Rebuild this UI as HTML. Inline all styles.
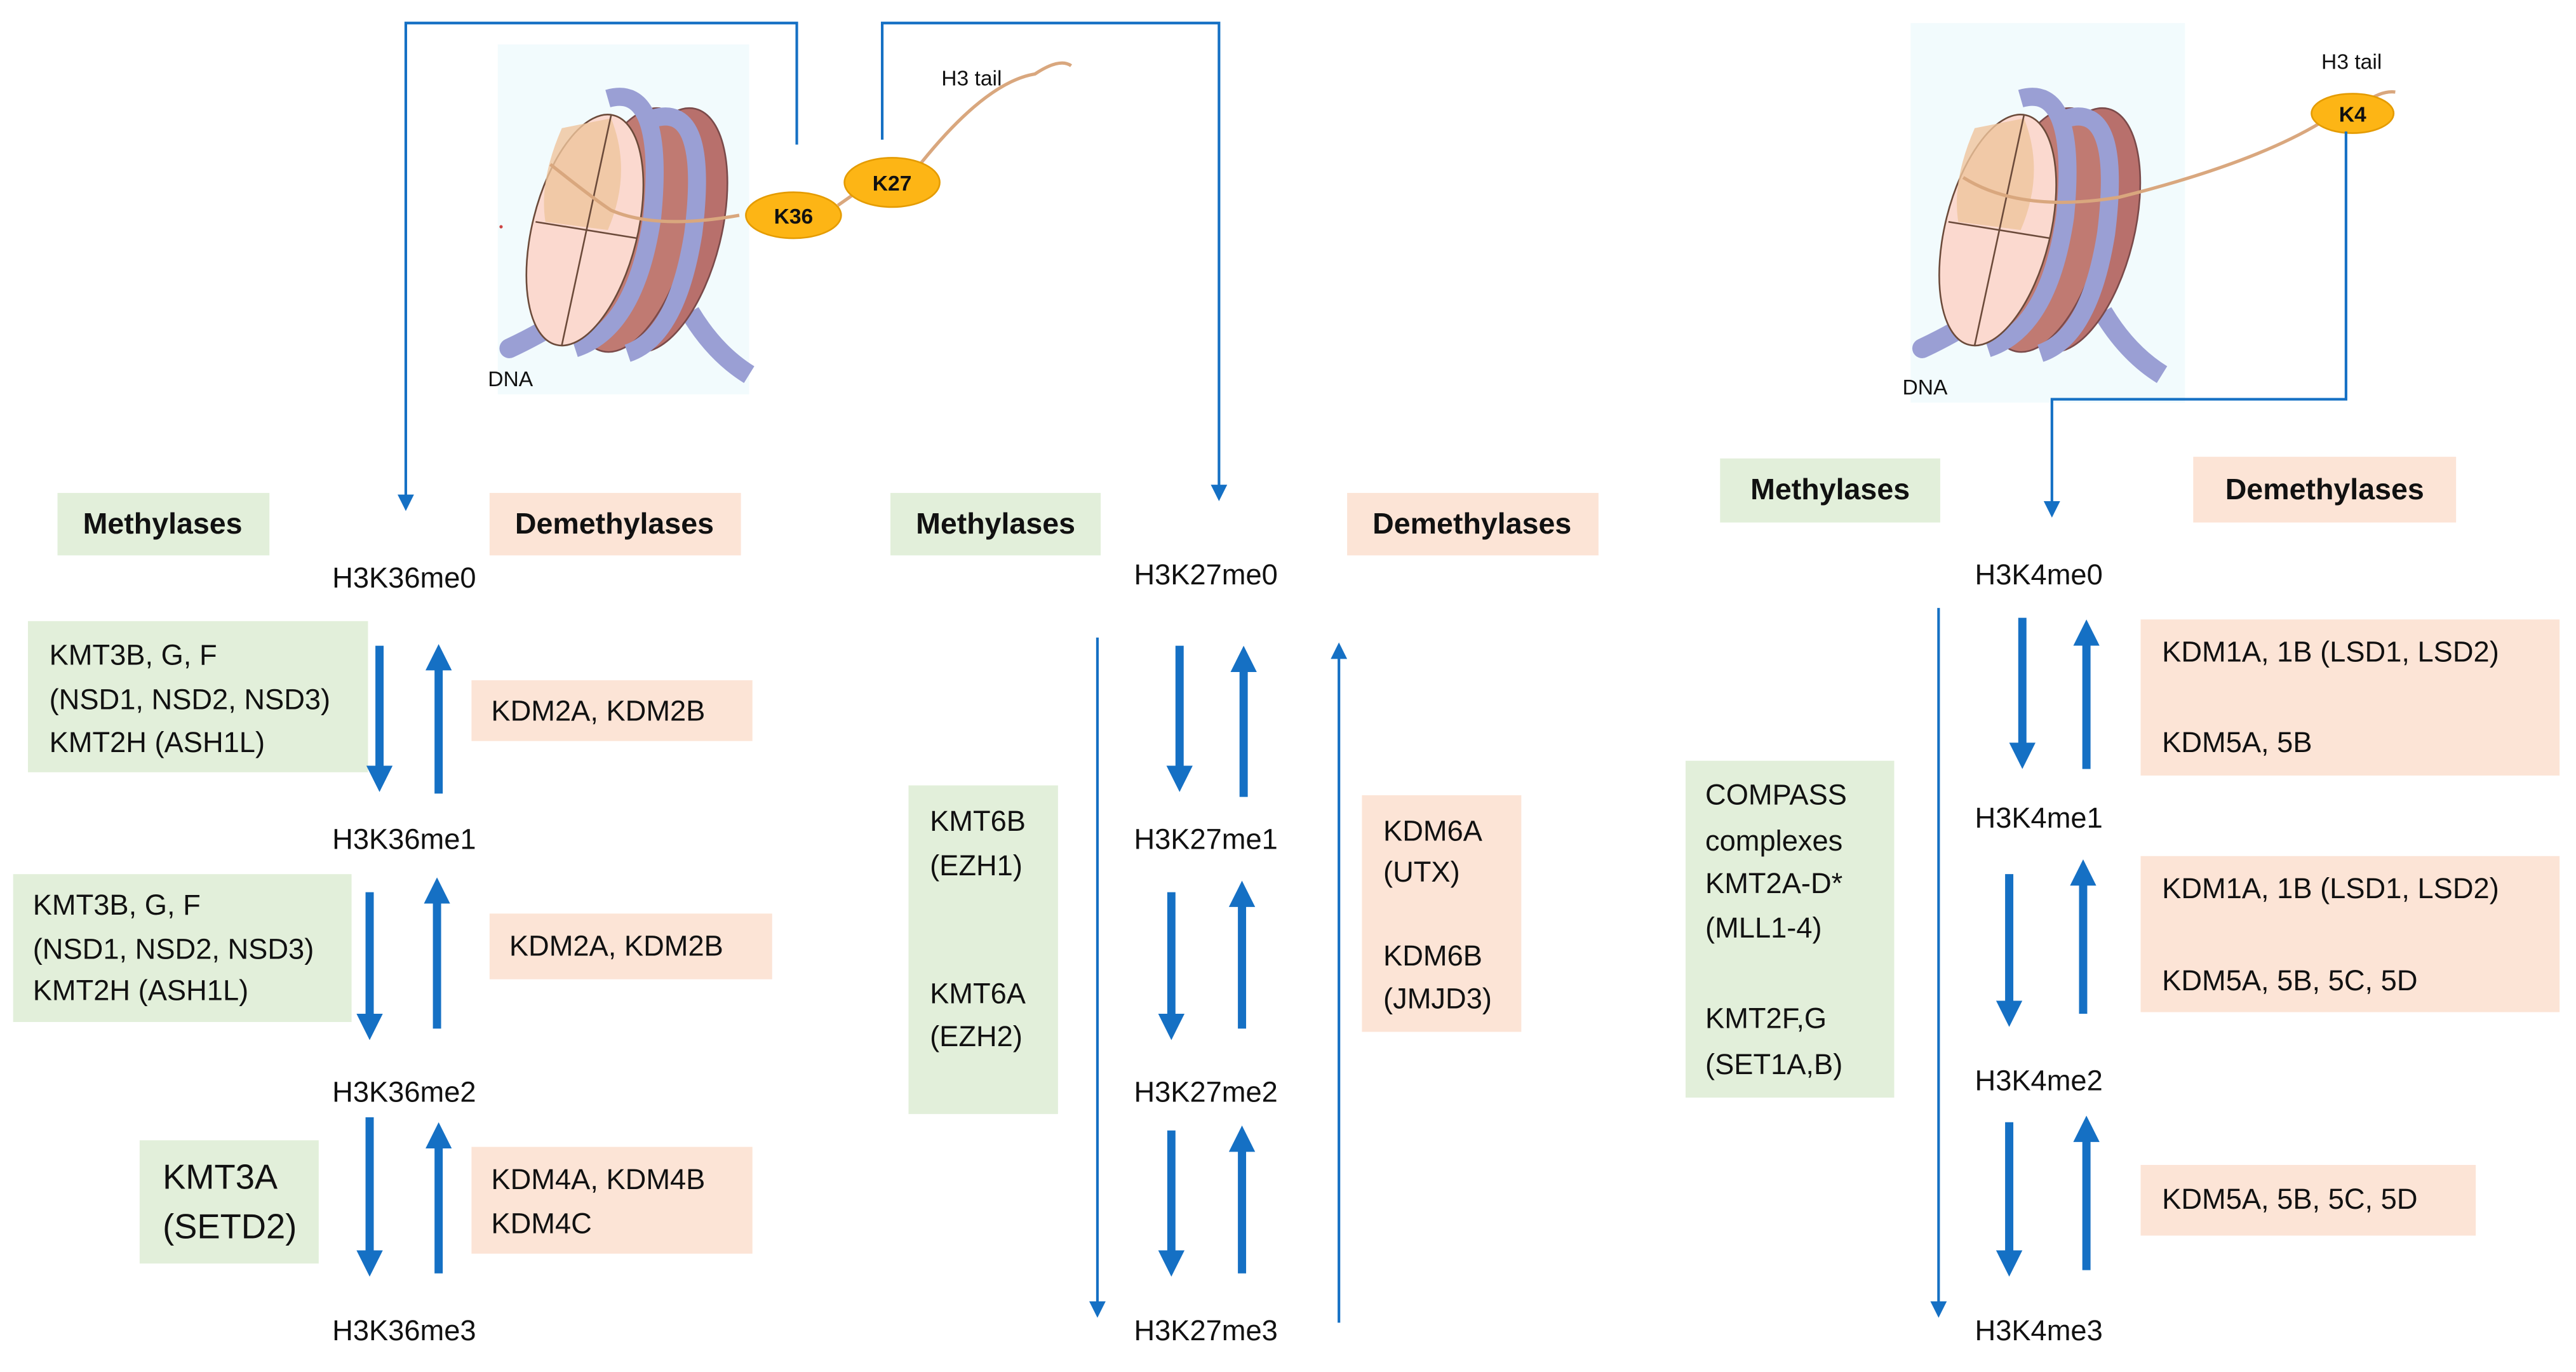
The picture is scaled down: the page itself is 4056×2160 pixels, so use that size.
<!DOCTYPE html>
<html><head><meta charset="utf-8"><style>
html,body{margin:0;padding:0;background:#fff;width:4056px;height:2160px;overflow:hidden}
svg{display:block}
text{font-family:"Liberation Sans",sans-serif;fill:#111}
.t{font-size:17.5px}
.h{font-size:18px;font-weight:bold}
.s{font-size:13px}
</style></head><body>
<svg width="4056" height="2160" viewBox="0 0 1568 835" xmlns="http://www.w3.org/2000/svg">
<defs>
<marker id="ah" markerWidth="10" markerHeight="10" refX="5" refY="5" orient="auto" markerUnits="userSpaceOnUse"><path d="M0,0 L10,5 L0,10 z" fill="#1570c4"/></marker>
<g id="nuc">
  <path d="M310,212 Q340,198 362,180" stroke="#9a9fd4" stroke-width="12" fill="none" stroke-linecap="round"/>
  <path d="M420,190 Q435,215 456,228" stroke="#9a9fd4" stroke-width="12" fill="none"/>
  <ellipse cx="405" cy="140" rx="34" ry="76" transform="rotate(14 405 140)" fill="#b8706c" stroke="#7a4a4a"/>
  <ellipse cx="385" cy="140" rx="34" ry="76" transform="rotate(14 385 140)" fill="#c07a72" stroke="#7a4a4a"/>
  <path d="M398,72 Q432,62 422,142 Q412,205 382,215" stroke="#9a9fd4" stroke-width="11" fill="none"/>
  <path d="M370,60 Q405,50 397,132 Q387,200 350,212" stroke="#9a9fd4" stroke-width="11" fill="none"/>
  <ellipse cx="356" cy="140" rx="32" ry="72" transform="rotate(14 356 140)" fill="#fbd9cf" stroke="#6b4a3a"/>
  <path d="M342,78 Q328,110 332,135 L370,140 Q385,105 372,72 z" fill="#efc49c" opacity="0.8"/>
  <line x1="372" y1="70" x2="342" y2="210" stroke="#6b4a3a"/>
  <line x1="326" y1="135" x2="388" y2="145" stroke="#6b4a3a"/>
</g>
</defs>

<!-- left nucleosome -->
<rect x="303" y="27" width="153" height="213" fill="#f2fbfd"/>
<use href="#nuc"/>
<circle cx="305" cy="138" r="1" fill="#c44"/>
<path d="M335,100 Q360,120 372,128 Q400,140 450,131" stroke="#d9a77e" stroke-width="2" fill="none"/>
<path d="M510,125 L520,118 M560,100 Q600,50 630,45 Q645,35 652,40" stroke="#d9a77e" stroke-width="2" fill="none"/>
<ellipse cx="483" cy="131" rx="29" ry="14" fill="#fdb515" stroke="#e49b00"/>
<text x="483" y="136" class="s" text-anchor="middle" font-weight="bold">K36</text>
<ellipse cx="543" cy="111" rx="29" ry="15" fill="#fdb515" stroke="#e49b00"/>
<text x="543" y="116" class="s" text-anchor="middle" font-weight="bold">K27</text>
<text x="573" y="52" class="s">H3 tail</text>
<text x="297" y="235" class="s">DNA</text>

<!-- right nucleosome -->
<rect x="1163" y="14" width="167" height="231" fill="#f2fbfd"/>
<use href="#nuc" transform="translate(860,0)"/>
<path d="M1195,108 Q1230,130 1290,120 Q1370,100 1412,75 M1440,62 Q1450,55 1458,56" stroke="#d9a77e" stroke-width="2" fill="none"/>
<ellipse cx="1432" cy="69" rx="25" ry="12" fill="#fdb515" stroke="#e49b00"/>
<text x="1432" y="74" class="s" text-anchor="middle" font-weight="bold">K4</text>
<text x="1413" y="42" class="s">H3 tail</text>
<text x="1158" y="240" class="s">DNA</text>

<!-- thin connectors -->
<g stroke="#1570c4" stroke-width="1.6" fill="none">
<path d="M485,88 V14 H247 V306" marker-end="url(#ah)"/>
<path d="M537,85 V14 H742 V300" marker-end="url(#ah)"/>
<path d="M1428,80 V243 H1249 V310" marker-end="url(#ah)"/>
<path d="M668,388 V797" marker-end="url(#ah)"/>
<path d="M815,805 V396" marker-end="url(#ah)"/>
<path d="M1180,370 V797" marker-end="url(#ah)"/>
</g>

<!-- boxes -->
<g fill="#e2efda">
<rect x="35" y="300" width="129" height="38"/><rect x="542" y="300" width="128" height="38"/><rect x="1047" y="279" width="134" height="39"/>
<rect x="17" y="378" width="207" height="92"/><rect x="8" y="532" width="206" height="90"/><rect x="85" y="694" width="109" height="75"/>
<rect x="553" y="478" width="91" height="200"/><rect x="1026" y="463" width="127" height="205"/>
</g>
<g fill="#fce4d6">
<rect x="298" y="300" width="153" height="38"/><rect x="820" y="300" width="153" height="38"/><rect x="1335" y="278" width="160" height="40"/>
<rect x="287" y="414" width="171" height="37"/><rect x="298" y="556" width="172" height="40"/><rect x="287" y="698" width="171" height="65"/>
<rect x="829" y="484" width="97" height="144"/>
<rect x="1303" y="377" width="255" height="95"/><rect x="1303" y="521" width="255" height="95"/><rect x="1303" y="709" width="204" height="43"/>
</g>

<g class="h" dominant-baseline="middle" text-anchor="middle">
<text x="99" y="320">Methylases</text><text x="374" y="320">Demethylases</text>
<text x="606" y="320">Methylases</text><text x="896" y="320">Demethylases</text>
<text x="1114" y="299">Methylases</text><text x="1415" y="299">Demethylases</text>
</g>

<g class="t" dominant-baseline="middle">
<g text-anchor="middle">
<text x="246" y="353">H3K36me0</text><text x="246" y="512">H3K36me1</text><text x="246" y="666">H3K36me2</text><text x="246" y="811">H3K36me3</text>
<text x="734" y="351">H3K27me0</text><text x="734" y="512">H3K27me1</text><text x="734" y="666">H3K27me2</text><text x="734" y="811">H3K27me3</text>
<text x="1241" y="351">H3K4me0</text><text x="1241" y="499">H3K4me1</text><text x="1241" y="659">H3K4me2</text><text x="1241" y="811">H3K4me3</text>
</g>
<text x="30" y="400">KMT3B, G, F</text><text x="30" y="427">(NSD1, NSD2, NSD3)</text><text x="30" y="453">KMT2H (ASH1L)</text>
<text x="20" y="552">KMT3B, G, F</text><text x="20" y="579">(NSD1, NSD2, NSD3)</text><text x="20" y="604">KMT2H (ASH1L)</text>
<text x="99" y="718" style="font-size:21px">KMT3A</text><text x="99" y="748" style="font-size:21px">(SETD2)</text>
<text x="299" y="434">KDM2A, KDM2B</text><text x="310" y="577">KDM2A, KDM2B</text>
<text x="299" y="719">KDM4A, KDM4B</text><text x="299" y="746">KDM4C</text>
<text x="566" y="501">KMT6B</text><text x="566" y="528">(EZH1)</text><text x="566" y="606">KMT6A</text><text x="566" y="632">(EZH2)</text>
<text x="842" y="507">KDM6A</text><text x="842" y="532">(UTX)</text><text x="842" y="583">KDM6B</text><text x="842" y="609">(JMJD3)</text>
<text x="1038" y="485">COMPASS</text><text x="1038" y="513">complexes</text><text x="1038" y="539">KMT2A-D*</text><text x="1038" y="566">(MLL1-4)</text>
<text x="1038" y="621">KMT2F,G</text><text x="1038" y="649">(SET1A,B)</text>
<text x="1316" y="398">KDM1A, 1B (LSD1, LSD2)</text><text x="1316" y="453">KDM5A, 5B</text>
<text x="1316" y="542">KDM1A, 1B (LSD1, LSD2)</text><text x="1316" y="598">KDM5A, 5B, 5C, 5D</text>
<text x="1316" y="731">KDM5A, 5B, 5C, 5D</text>
</g>

<!-- thick arrows -->
<defs>
<marker id="tb" markerWidth="16" markerHeight="16" refX="8" refY="8" orient="auto" markerUnits="userSpaceOnUse"><path d="M0,0 L16,8 L0,16 z" fill="#1570c4"/></marker>
</defs>
<g stroke="#1570c4" stroke-width="5" fill="none">
<path d="M231,393 V474" marker-end="url(#tb)"/><path d="M267,483 V400" marker-end="url(#tb)"/>
<path d="M225,543 V625" marker-end="url(#tb)"/><path d="M266,626 V542" marker-end="url(#tb)"/>
<path d="M225,680 V769" marker-end="url(#tb)"/><path d="M267,775 V691" marker-end="url(#tb)"/>
<path d="M718,393 V474" marker-end="url(#tb)"/><path d="M757,485 V401" marker-end="url(#tb)"/>
<path d="M713,543 V625" marker-end="url(#tb)"/><path d="M756,626 V544" marker-end="url(#tb)"/>
<path d="M713,688 V769" marker-end="url(#tb)"/><path d="M756,775 V693" marker-end="url(#tb)"/>
<path d="M1231,376 V460" marker-end="url(#tb)"/><path d="M1270,468 V385" marker-end="url(#tb)"/>
<path d="M1223,532 V617" marker-end="url(#tb)"/><path d="M1268,617 V531" marker-end="url(#tb)"/>
<path d="M1223,683 V769" marker-end="url(#tb)"/><path d="M1270,773 V687" marker-end="url(#tb)"/>
</g>
</svg>
</body></html>
